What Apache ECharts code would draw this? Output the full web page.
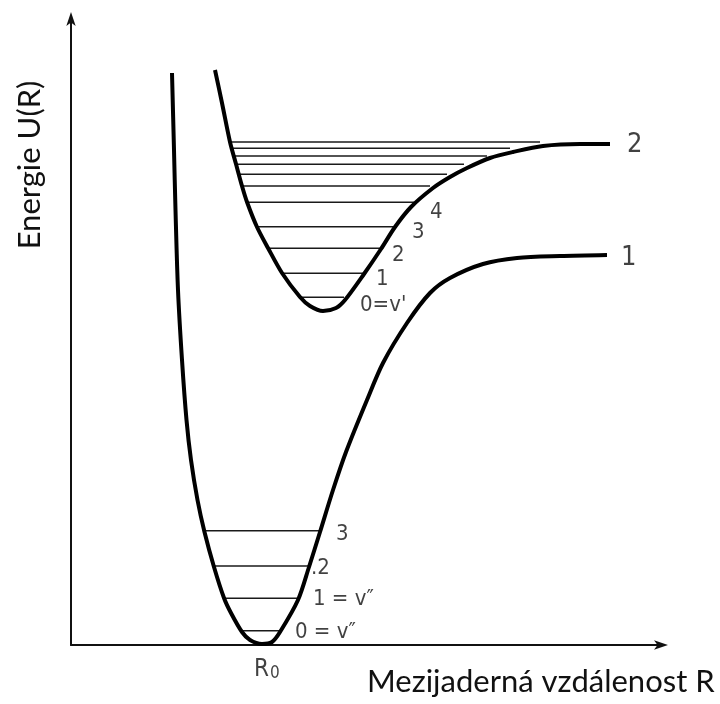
<!DOCTYPE html>
<html>
<head>
<meta charset="utf-8">
<script src="https://cdn.jsdelivr.net/npm/echarts@6/dist/echarts.min.js"></script>
<style>html,body{margin:0;padding:0;background:#fff}#c{width:720px;height:704px}</style>
</head>
<body>
<div id="c"></div>
<script>
// Units: arbitrary; R along x, U along y
const curveGround = [[101,572],[103,495],[104.5,435],[107,355],[111,285],[115.5,225],[120,185],[126.5,145],[133.5,113],[143,78],[153,47],[160,32],[171,13],[179,5],[191,1],[201,3],[209,13],[227,45],[238,78],[249,113],[262,155],[275,193],[296,245],[312,282],[336,322],[359,352],[379,367],[412,381],[446,387],[489,389],[536,390]];
const curveExcited = [[144,575],[151,542],[159,503],[165,481],[171,459],[176,443],[186,418],[197,397],[211,372],[229,348],[239,339],[252,334],[265,337],[274,345],[293,371],[310,396],[324,418],[340,438],[362,457],[379,468],[396,477],[419,487],[442,493],[472,499],[509,501],[539,501]];
// vibrational levels: [U, R_left, R_right]
const levelsExcited = [[503,159,469],[496.7,161,439],[489,162,416],[480.7,165,393],[470.7,167,376],[459,171,359],[442.7,176,343],[418.3,186,324],[396.7,197,310],[371.7,211,293],[347.7,229,273]];
const levelsGround = [[114.3,133.5,249],[79,143,238],[46.7,153,227],[14.3,171,209]];
const curveLabels = [{name:'2', value:[556,500]},{name:'1', value:[550,387]}];
const levelLabelsExcited = [{name:"0=v'", value:[289,340]},{name:'1', value:[305,366]},{name:'2', value:[321,390]},{name:'3', value:[341,413]},{name:'4', value:[359,433]}];
const levelLabelsGround = [{name:'3', value:[265,111]},{name:'.2', value:[240,77]},{name:'1 = v″', value:[242,46]},{name:'0 = v″', value:[224,13]}];
const axisMark = {name:'R0', value:[183,-25]};
const xTitle = 'Mezijaderná vzdálenost R';
const yTitle = 'Energie U(R)';

const numFont = "'DejaVu Sans Condensed', 'DejaVu Sans'";
const chart = echarts.init(document.getElementById('c'), null, {renderer:'canvas'});
const levelSeries = levelsExcited.concat(levelsGround).map(l => ({
  type:'line', data:[[l[1],l[0]],[l[2],l[0]]], symbol:'none', silent:true,
  lineStyle:{color:'#1a1a1a', width:1.6}, z:2
}));
const labelSeries = (arr, size) => ({
  type:'scatter', symbolSize:0, clip:false, silent:true,
  data: arr,
  label:{show:true, formatter:'{b}', position:'inside', align:'left', verticalAlign:'middle',
    color:'#111', fontFamily:numFont, fontSize:size}
});
chart.setOption({
  animation:false,
  grid:{left:71, right:57, top:17, bottom:59},
  xAxis:{type:'value', min:0, max:592, splitLine:{show:false}, axisTick:{show:false}, axisLabel:{show:false},
    axisLine:{show:true, lineStyle:{color:'#111', width:2}, symbol:['none','arrow'], symbolSize:[7,14], symbolOffset:[0,5]}},
  yAxis:{type:'value', min:0, max:628, splitLine:{show:false}, axisTick:{show:false}, axisLabel:{show:false},
    axisLine:{show:true, onZero:false, lineStyle:{color:'#111', width:2}, symbol:['none','arrow'], symbolSize:[7,14], symbolOffset:[0,5]}},
  series:[
    {type:'line', data:curveGround, smooth:0.3, symbol:'none', lineStyle:{color:'#000', width:4}, z:3},
    {type:'line', data:curveExcited, smooth:0.3, symbol:'none', lineStyle:{color:'#000', width:4}, z:3},
    ...levelSeries,
    labelSeries(curveLabels, 27),
    labelSeries(levelLabelsExcited, 22),
    labelSeries(levelLabelsGround, 22),
    {type:'scatter', symbolSize:0, clip:false, silent:true, data:[axisMark],
      label:{show:true, position:'inside', align:'left', formatter:'R{s|0}', color:'#111', fontFamily:numFont, fontSize:24,
        rich:{s:{fontSize:17, fontFamily:numFont, color:'#111', padding:[8,0,0,1]}}}}
  ],
  graphic:[
    {type:'text', left:367, top:666, style:{text:xTitle, fontFamily:'Lato', fontSize:31, fill:'#111'}},
    {type:'text', x:30, y:165, rotation:Math.PI/2, style:{text:yTitle, fontFamily:'Lato', fontSize:31, fill:'#111', align:'center', verticalAlign:'middle'}}
  ]
});
</script>
</body>
</html>
